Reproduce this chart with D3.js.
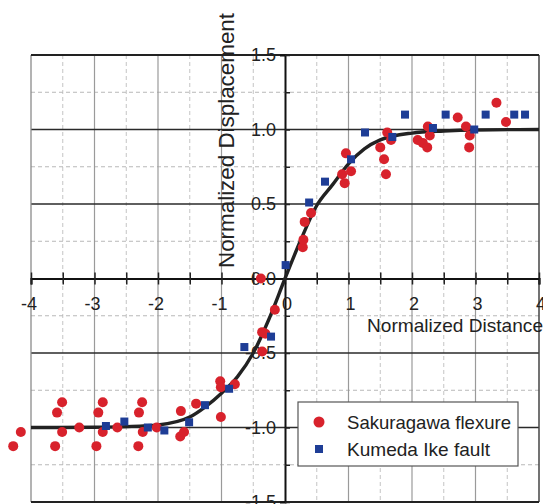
<!DOCTYPE html>
<html>
<head>
<meta charset="utf-8">
<script src="https://cdn.jsdelivr.net/npm/d3@7"></script>
<style>
  html, body { margin: 0; padding: 0; background: #fff; }
  svg { display: block; font-family: "Liberation Sans", Arial, sans-serif; }
</style>
</head>
<body>
<svg id="chart" width="543" height="504"></svg>
<script>
// data
var xTicks = [-4, -3, -2, -1, 0, 1, 2, 3, 4];
var yTicks = [1.5, 1.0, 0.5, 0.0, -0.5, -1.0, -1.5];
var yTickLabels = ["1.5", "1.0", "0.5", "0.0", "-0.5", "-1.0", "-1.5"];

var sakuraX = [-4.28, -4.16, -3.62, -3.59, -3.51, -3.51, -3.24, -2.97, -2.94, -2.87, -2.87, -2.64,
  -2.31, -2.30, -2.25, -2.24, -2.02, -1.65, -1.64, -1.59, -1.40, -1.01, -1.02, -1.01, -0.79,
  -0.38, -0.36, -0.36, -0.31, -0.16, 0.28, 0.29, 0.31, 0.41, 0.90, 0.94, 0.96, 1.04,
  1.50, 1.56, 1.59, 1.61, 1.67, 2.09, 2.17, 2.24, 2.25, 2.28, 2.72, 2.85, 2.91, 2.90, 3.33, 3.48];
var sakuraY = [-1.125, -1.03, -1.125, -0.90, -0.83, -1.03, -1.0, -1.125, -0.90, -0.83, -1.03, -1.0,
  -1.125, -0.90, -0.83, -1.03, -1.0, -1.06, -0.89, -1.03, -0.84, -0.93, -0.69, -0.73, -0.71,
  0.0, -0.49, -0.36, -0.37, -0.21, 0.21, 0.26, 0.38, 0.44, 0.70, 0.64, 0.84, 0.72,
  0.88, 0.80, 0.70, 0.98, 0.93, 0.93, 0.91, 0.88, 1.02, 0.96, 1.08, 1.02, 0.96, 0.88, 1.18, 1.05];

var kumedaX = [-2.82, -2.53, -2.16, -1.90, -1.51, -1.26, -0.88, -0.64, -0.22, 0.01, 0.38, 0.63,
  1.04, 1.26, 1.69, 1.89, 2.33, 2.53, 2.98, 3.16, 3.61, 3.78];
var kumedaY = [-0.99, -0.96, -1.0, -1.02, -0.965, -0.85, -0.74, -0.46, -0.39, 0.09, 0.51, 0.65,
  0.80, 0.98, 0.95, 1.10, 1.01, 1.10, 1.00, 1.10, 1.10, 1.10];

// fitted curve
var curveX = [-4, -3, -2.5, -2, -1.5, -1.25, -1, -0.75, -0.5, -0.25, 0, 0.25, 0.5, 0.75, 1, 1.25, 1.5, 2, 2.5, 3, 4];
var curveY = [-1.0, -0.998, -0.994, -0.983, -0.93, -0.86, -0.77, -0.66, -0.5, -0.27, 0, 0.26, 0.49, 0.63, 0.77, 0.87, 0.93, 0.976, 0.99, 0.997, 1.0];

var svg = d3.select("#chart");
var x = d3.scaleLinear().domain([-4, 4]).range([31, 539]);
var y = d3.scaleLinear().domain([-1.5, 1.5]).range([502, 55]);

var grid = svg.append("g").attr("class", "grid");

// minor dashed grid
grid.selectAll(".vminor").data(d3.range(-3.5, 4, 1)).enter().append("line")
  .attr("x1", function (d) { return x(d); }).attr("x2", function (d) { return x(d); })
  .attr("y1", y(1.5)).attr("y2", y(-1.5))
  .attr("stroke", "#c4c4c4").attr("stroke-width", 1).attr("stroke-dasharray", "4,3");
grid.selectAll(".hminor").data([1.25, 0.75, 0.25, -0.25, -0.75, -1.25]).enter().append("line")
  .attr("x1", x(-4)).attr("x2", x(4))
  .attr("y1", function (d) { return y(d); }).attr("y2", function (d) { return y(d); })
  .attr("stroke", "#b8b8b8").attr("stroke-width", 1).attr("stroke-dasharray", "4,3");

// major grid
grid.selectAll(".vmajor").data([-3, -2, -1, 1, 2, 3]).enter().append("line")
  .attr("x1", function (d) { return x(d); }).attr("x2", function (d) { return x(d); })
  .attr("y1", y(1.5)).attr("y2", y(-1.5))
  .attr("stroke", "#9a9a9a").attr("stroke-width", 1.2);
grid.selectAll(".hmajor").data([1.0, 0.5, -0.5, -1.0]).enter().append("line")
  .attr("x1", x(-4)).attr("x2", x(4))
  .attr("y1", function (d) { return y(d); }).attr("y2", function (d) { return y(d); })
  .attr("stroke", "#2a2a2a").attr("stroke-width", 1.3);

// frame
grid.append("line").attr("x1", x(-4)).attr("x2", x(-4)).attr("y1", y(1.5)).attr("y2", y(-1.5))
  .attr("stroke", "#8a8a8a").attr("stroke-width", 1.3);
grid.append("line").attr("x1", x(4)).attr("x2", x(4)).attr("y1", y(1.5)).attr("y2", y(-1.5))
  .attr("stroke", "#444").attr("stroke-width", 1.5);
grid.append("line").attr("x1", x(-4)).attr("x2", x(4)).attr("y1", y(1.5)).attr("y2", y(1.5))
  .attr("stroke", "#222").attr("stroke-width", 2.2);
grid.append("line").attr("x1", x(-4)).attr("x2", x(4)).attr("y1", y(-1.5)).attr("y2", y(-1.5))
  .attr("stroke", "#222").attr("stroke-width", 1.8);

// x axis through y = 0, ticks crossing the line
var xAxis = svg.append("g").attr("transform", "translate(0," + y(0) + ")")
  .call(d3.axisBottom(x).tickValues(d3.range(-4, 4.01, 0.5)).tickSize(6).tickFormat(""));
xAxis.select(".domain").attr("stroke", "#111").attr("stroke-width", 2.2);
xAxis.selectAll(".tick line").attr("y1", -6).attr("stroke", "#222").attr("stroke-width", 1.5);

// y axis through x = 0
var yAxis = svg.append("g").attr("transform", "translate(" + x(0) + ",0)")
  .call(d3.axisLeft(y).tickValues(d3.range(-1.5, 1.51, 0.25)).tickSize(5).tickFormat(""));
yAxis.select(".domain").attr("stroke", "#111").attr("stroke-width", 2);
yAxis.selectAll(".tick line").attr("x2", 5).attr("stroke", "#222").attr("stroke-width", 1.5);

// tick labels
svg.append("g").selectAll("text").data(xTicks).enter().append("text")
  .attr("x", function (d) { return x(d) + (d < 0 ? -2 : 2); })
  .attr("y", y(0) + 31)
  .attr("text-anchor", "middle")
  .attr("font-size", 18).attr("fill", "#222")
  .text(function (d) { return d; });

svg.append("g").selectAll("text").data(yTicks).enter().append("text")
  .attr("x", x(0) - 9)
  .attr("y", function (d) { return y(d) + 6; })
  .attr("text-anchor", "end")
  .attr("font-size", 18).attr("fill", "#222")
  .text(function (d, i) { return yTickLabels[i]; });

// axis titles
svg.append("text")
  .attr("transform", "translate(234,268) rotate(-90)")
  .attr("font-size", 22).attr("fill", "#222")
  .attr("textLength", 255).attr("lengthAdjust", "spacingAndGlyphs")
  .text("Normalized Displacement");

svg.append("text")
  .attr("x", 367).attr("y", 332)
  .attr("font-size", 19).attr("fill", "#222")
  .attr("textLength", 176).attr("lengthAdjust", "spacingAndGlyphs")
  .text("Normalized Distance");

// fitted curve
var line = d3.line()
  .x(function (d, i) { return x(curveX[i]); })
  .y(function (d, i) { return y(curveY[i]); })
  .curve(d3.curveMonotoneX);
svg.append("path").datum(curveX)
  .attr("d", line).attr("fill", "none")
  .attr("stroke", "#222").attr("stroke-width", 3.4);

// points
svg.append("g").selectAll("circle").data(sakuraX).enter().append("circle")
  .attr("cx", function (d) { return x(d); })
  .attr("cy", function (d, i) { return y(sakuraY[i]); })
  .attr("r", 5).attr("fill", "#d8222c");

var sq = 8;
svg.append("g").selectAll("rect").data(kumedaX).enter().append("rect")
  .attr("x", function (d) { return x(d) - sq / 2; })
  .attr("y", function (d, i) { return y(kumedaY[i]) - sq / 2; })
  .attr("width", sq).attr("height", sq).attr("fill", "#1e3d96");

// legend
var legend = svg.append("g").attr("class", "legend");
legend.append("rect").attr("x", 298).attr("y", 402).attr("width", 220).attr("height", 64)
  .attr("fill", "#fff").attr("stroke", "#555").attr("stroke-width", 1.2);
legend.append("circle").attr("cx", 319).attr("cy", 422).attr("r", 5.5).attr("fill", "#d8222c");
legend.append("rect").attr("x", 315).attr("y", 445).attr("width", 8).attr("height", 8).attr("fill", "#1e3d96");
legend.append("text").attr("x", 347).attr("y", 429).attr("font-size", 19).attr("fill", "#222")
  .attr("textLength", 164).attr("lengthAdjust", "spacingAndGlyphs").text("Sakuragawa flexure");
legend.append("text").attr("x", 347).attr("y", 456).attr("font-size", 19).attr("fill", "#222")
  .attr("textLength", 143).attr("lengthAdjust", "spacingAndGlyphs").text("Kumeda Ike fault");
</script>
</body>
</html>
